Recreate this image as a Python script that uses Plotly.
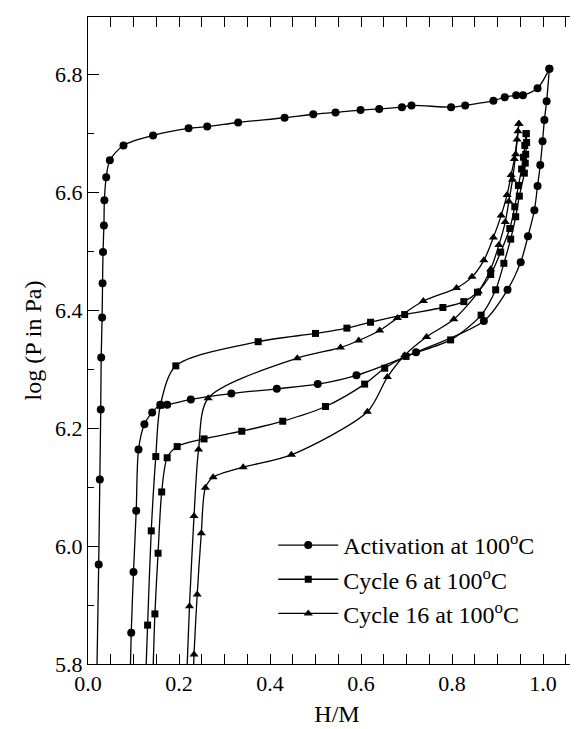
import plotly.graph_objects as go

# Activation at 100 C (circles)
act_abs_x = [0.019, 0.0235, 0.026, 0.028, 0.029, 0.031, 0.032, 0.033, 0.035, 0.036, 0.040, 0.048, 0.078, 0.143, 0.221, 0.262, 0.330, 0.432, 0.495, 0.544, 0.599, 0.640, 0.690, 0.711, 0.798, 0.829, 0.891, 0.916, 0.941, 0.956, 0.988, 1.014]
act_abs_y = [5.76, 5.969, 6.113, 6.232, 6.320, 6.388, 6.446, 6.499, 6.544, 6.587, 6.626, 6.655, 6.680, 6.697, 6.709, 6.712, 6.719, 6.727, 6.733, 6.736, 6.740, 6.742, 6.745, 6.748, 6.745, 6.748, 6.756, 6.762, 6.765, 6.765, 6.777, 6.810]
act_des_x = [1.014, 1.008, 1.003, 0.999, 0.994, 0.988, 0.981, 0.967, 0.951, 0.922, 0.870, 0.721, 0.590, 0.505, 0.415, 0.315, 0.226, 0.174, 0.159, 0.141, 0.124, 0.111, 0.106, 0.100, 0.095, 0.092]
act_des_y = [6.810, 6.755, 6.723, 6.687, 6.647, 6.611, 6.570, 6.526, 6.482, 6.435, 6.382, 6.329, 6.290, 6.275, 6.267, 6.259, 6.249, 6.240, 6.240, 6.227, 6.207, 6.164, 6.060, 5.956, 5.853, 5.76]

# Cycle 6 at 100 C (squares)
c6_abs_x = [0.126, 0.131, 0.139, 0.149, 0.159, 0.193, 0.374, 0.500, 0.569, 0.621, 0.696, 0.780, 0.826, 0.856, 0.885, 0.907, 0.927, 0.938, 0.946, 0.953, 0.957, 0.960, 0.963]
c6_abs_y = [5.76, 5.866, 6.026, 6.152, 6.239, 6.306, 6.347, 6.361, 6.370, 6.380, 6.393, 6.405, 6.415, 6.431, 6.461, 6.499, 6.539, 6.576, 6.612, 6.640, 6.660, 6.680, 6.700]
c6_des_x = [0.963, 0.964, 0.962, 0.961, 0.959, 0.948, 0.940, 0.929, 0.914, 0.896, 0.864, 0.797, 0.699, 0.652, 0.608, 0.522, 0.428, 0.338, 0.255, 0.196, 0.174, 0.162, 0.154, 0.147, 0.142]
c6_des_y = [6.700, 6.685, 6.665, 6.650, 6.633, 6.594, 6.559, 6.521, 6.480, 6.435, 6.392, 6.350, 6.322, 6.302, 6.275, 6.237, 6.212, 6.195, 6.182, 6.169, 6.150, 6.092, 5.988, 5.885, 5.76]

# Cycle 16 at 100 C (triangles)
c16_abs_x = [0.216, 0.223, 0.233, 0.243, 0.264, 0.460, 0.555, 0.595, 0.641, 0.680, 0.737, 0.810, 0.844, 0.870, 0.891, 0.908, 0.921, 0.930, 0.937, 0.943, 0.945, 0.947]
c16_abs_y = [5.76, 5.898, 6.051, 6.164, 6.251, 6.319, 6.337, 6.349, 6.366, 6.387, 6.416, 6.438, 6.457, 6.485, 6.524, 6.561, 6.596, 6.630, 6.657, 6.690, 6.704, 6.717]
c16_des_x = [0.947, 0.940, 0.933, 0.925, 0.917, 0.903, 0.885, 0.858, 0.804, 0.744, 0.696, 0.658, 0.614, 0.447, 0.341, 0.275, 0.258, 0.249, 0.240, 0.233, 0.231]
c16_des_y = [6.717, 6.665, 6.622, 6.585, 6.550, 6.511, 6.470, 6.432, 6.385, 6.355, 6.324, 6.287, 6.228, 6.155, 6.134, 6.117, 6.099, 6.022, 5.918, 5.816, 5.76]

series = [
    ("Activation at 100<sup>o</sup>C", "circle", 8, act_abs_x, act_abs_y, act_des_x, act_des_y),
    ("Cycle 6 at 100<sup>o</sup>C", "square", 7, c6_abs_x, c6_abs_y, c6_des_x, c6_des_y),
    ("Cycle 16 at 100<sup>o</sup>C", "triangle-up", 8, c16_abs_x, c16_abs_y, c16_des_x, c16_des_y),
]

FONT = "Liberation Serif"
fig = go.Figure()
for i, (name, sym, size, ax, ay, dx, dy) in enumerate(series):
    for j, (xs, ys) in enumerate([(ax, ay), (dx, dy)]):
        fig.add_trace(go.Scatter(
            x=xs, y=ys, mode="lines+markers", name=name,
            legendgroup=name, showlegend=(j == 0),
            line=dict(color="black", width=1.3, shape="spline", smoothing=0.8),
            marker=dict(symbol=sym, size=size, color="black"),
            cliponaxis=True,
        ))

fig.update_layout(
    width=578, height=729,
    margin=dict(l=80, r=0, t=9, b=73),
    paper_bgcolor="white", plot_bgcolor="white",
    font=dict(family=FONT, color="black", size=22),
    showlegend=True,
    legend=dict(x=0.372, y=0.218, xanchor="left", yanchor="top",
                bgcolor="rgba(0,0,0,0)", font=dict(size=24, family=FONT),
                itemwidth=60, tracegroupgap=0),
    xaxis=dict(range=[0, 1.0945], tickvals=[0, 0.2, 0.4, 0.6, 0.8, 1.0],
               ticktext=["0.0", "0.2", "0.4", "0.6", "0.8", "1.0"],
               ticks="inside", ticklen=10, tickwidth=1, tickcolor="black",
               showline=True, linecolor="black", linewidth=1, mirror="allticks",
               showgrid=False, zeroline=False,
               minor=dict(dtick=0.05, tick0=0, ticks="inside", ticklen=5, tickcolor="black", showgrid=False),
               title=dict(text="H/M", font=dict(size=24), standoff=9),
               tickfont=dict(size=22)),
    yaxis=dict(range=[5.8, 6.898], tickvals=[5.8, 6.0, 6.2, 6.4, 6.6, 6.8],
               ticktext=["5.8", "6.0", "6.2", "6.4", "6.6", "6.8"],
               ticks="inside", ticklen=11, tickwidth=1, tickcolor="black",
               showline=True, linecolor="black", linewidth=1, mirror=False,
               showgrid=False, zeroline=False,
               minor=dict(dtick=0.1, tick0=5.8, ticks="inside", ticklen=6, tickcolor="black", showgrid=False),
               title=dict(text="log (P in Pa)", font=dict(size=24), standoff=6),
               tickfont=dict(size=22)),
    yaxis2=dict(range=[5.8, 6.898], overlaying="y", side="right", matches="y",
                tickvals=[5.8, 6.0, 6.2, 6.4, 6.6, 6.8], showticklabels=False,
                ticks="inside", ticklen=8, tickcolor="black", showline=False,
                showgrid=False, zeroline=False,
                minor=dict(dtick=0.1, tick0=5.8, ticks="inside", ticklen=4, tickcolor="black", showgrid=False)),
)
# invisible helper so the right-side tick axis is drawn
fig.add_trace(go.Scatter(x=[None], y=[None], yaxis="y2", showlegend=False, hoverinfo="skip"))

fig.write_html("out.html")
